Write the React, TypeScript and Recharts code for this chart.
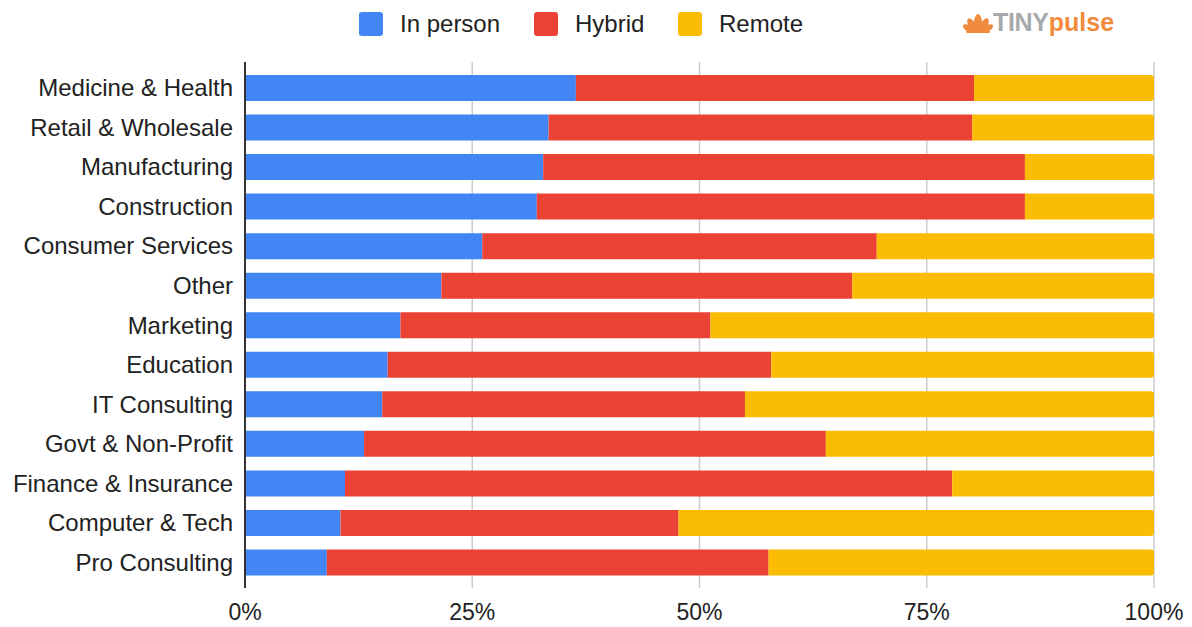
import React from "react";
import { BarChart, Bar, XAxis, YAxis, CartesianGrid } from "recharts";

const categories = [
  "Medicine & Health",
  "Retail & Wholesale",
  "Manufacturing",
  "Construction",
  "Consumer Services",
  "Other",
  "Marketing",
  "Education",
  "IT Consulting",
  "Govt & Non-Profit",
  "Finance & Insurance",
  "Computer & Tech",
  "Pro Consulting",
];
const inPerson = [36.4, 33.4, 32.8, 32.1, 26.1, 21.6, 17.1, 15.7, 15.1, 13.1, 11.0, 10.5, 9.0];
const hybrid = [43.8, 46.6, 53.0, 53.7, 43.4, 45.2, 34.1, 42.2, 39.9, 50.8, 66.8, 37.2, 48.6];
const remote = [19.8, 20.0, 14.2, 14.2, 30.5, 33.2, 48.8, 42.1, 45.0, 36.1, 22.2, 52.3, 42.4];
const xTicks = [0, 0.25, 0.5, 0.75, 1];
const seriesNames = ["In person", "Hybrid", "Remote"];
const colors = ["#4285F4", "#EA4335", "#FBBC04"];

const data = categories.map((c, i) => ({
  name: c,
  inPerson: inPerson[i],
  hybrid: hybrid[i],
  remote: remote[i],
}));

const FONT = "'Liberation Sans', Arial, sans-serif";

function Logo() {
  return (
    <div style={{ position: "absolute", left: 963, top: 8, display: "flex", alignItems: "center", fontFamily: FONT }}>
      <svg width="30" height="24" viewBox="0 0 30 24">
        <g fill="#F08A3C">
          <ellipse cx="15" cy="12" rx="4" ry="9" />
          <ellipse cx="9" cy="14" rx="3.5" ry="7.5" transform="rotate(-30 9 14)" />
          <ellipse cx="21" cy="14" rx="3.5" ry="7.5" transform="rotate(30 21 14)" />
          <ellipse cx="5" cy="17" rx="3" ry="5.5" transform="rotate(-60 5 17)" />
          <ellipse cx="25" cy="17" rx="3" ry="5.5" transform="rotate(60 25 17)" />
          <rect x="3" y="19" width="24" height="3" rx="1.5" />
        </g>
      </svg>
      <span style={{ fontSize: 25, fontWeight: 700, color: "#A7A9AC", letterSpacing: -0.3 }}>TINY</span>
      <span style={{ fontSize: 25, fontWeight: 700, color: "#F08A3C", letterSpacing: 0 }}>pulse</span>
    </div>
  );
}

function LegendBox() {
  const xs = [359, 534, 678];
  return (
    <>
      {seriesNames.map((n, i) => (
        <div key={n} style={{ position: "absolute", left: xs[i], top: 10, display: "flex", alignItems: "center", fontFamily: FONT }}>
          <div style={{ width: 24, height: 24, borderRadius: 3, background: colors[i] }} />
          <span style={{ marginLeft: 17, fontSize: 24, color: "#222" }}>{n}</span>
        </div>
      ))}
    </>
  );
}

export default function App() {
  return (
    <div style={{ position: "absolute", left: 0, top: 0, width: 1192, height: 627, background: "#fff" }}>
      <LegendBox />
      <Logo />
      <BarChart
        width={1192}
        height={627}
        data={data}
        layout="vertical"
        stackOffset="expand"
        barSize={26}
        margin={{ top: 62, right: 38, bottom: 0, left: 0 }}
      >
        <CartesianGrid horizontal={false} vertical stroke="#cccccc" strokeWidth={1.5} />
        <XAxis
          type="number"
          domain={[0, 1]}
          ticks={xTicks}
          tickFormatter={(v: number) => `${Math.round(v * 100)}%`}
          axisLine={false}
          tickLine={false}
          tickMargin={10}
          height={39}
          interval={0}
          tick={{ fontSize: 23, fill: "#222", fontFamily: FONT }}
        />
        <YAxis
          type="category"
          dataKey="name"
          width={245}
          axisLine={{ stroke: "#333", strokeWidth: 2 }}
          tickLine={false}
          tickMargin={6}
          interval={0}
          padding={{ top: 6, bottom: 6 }}
          tick={{ fontSize: 24, fill: "#222", fontFamily: FONT }}
        />
        <Bar dataKey="inPerson" stackId="a" fill={colors[0]} isAnimationActive={false} />
        <Bar dataKey="hybrid" stackId="a" fill={colors[1]} isAnimationActive={false} />
        <Bar dataKey="remote" stackId="a" fill={colors[2]} radius={[0, 3, 3, 0]} isAnimationActive={false} />
      </BarChart>
    </div>
  );
}
